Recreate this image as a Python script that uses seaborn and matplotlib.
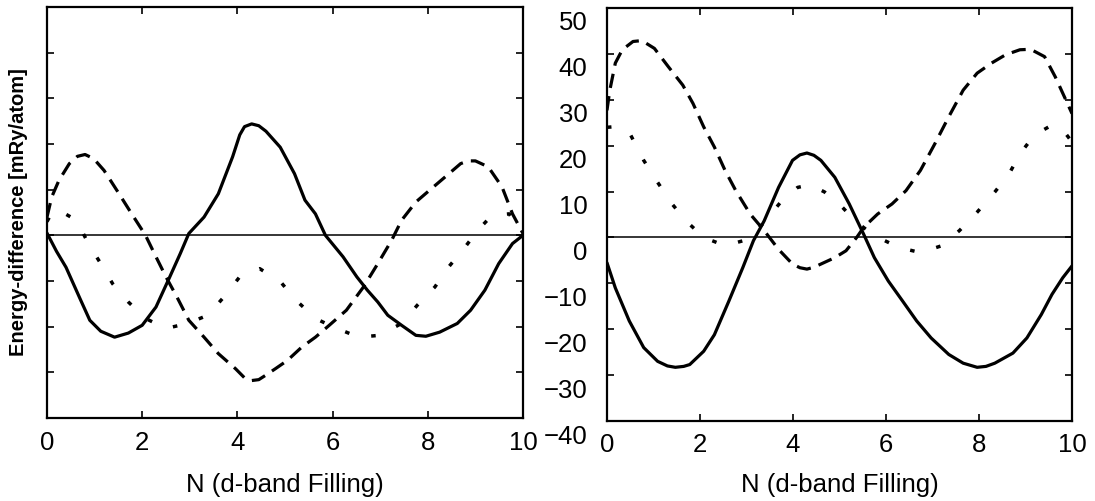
import matplotlib
matplotlib.use("Agg")
import matplotlib.pyplot as plt
import matplotlib.transforms as mtransforms
import pandas as pd
import seaborn as sns

# ---- d-band filling vs. structural energy difference (mRy/atom) ----
# Left panel
left_solid_n = [0, 0.2, 0.4, 0.7, 0.9, 1.13, 1.42, 1.71, 2.0, 2.29, 2.58, 2.8, 2.98, 3.3, 3.6,
                3.9, 4.05, 4.15, 4.3, 4.45, 4.6, 4.9, 5.2, 5.42, 5.64, 5.85, 6.22, 6.51, 6.73,
                6.95, 7.16, 7.45, 7.75, 7.96, 8.25, 8.62, 8.9, 9.2, 9.49, 9.78, 10.0]
left_solid_e = [0.5, -3.5, -7, -14, -18.6, -21, -22.3, -21.4, -19.7, -15.7, -9.1, -4, 0.4, 4, 9.1,
                17.2, 22.0, 23.8, 24.4, 24.0, 22.8, 19.3, 13.5, 7.7, 4.7, 0, -4.7, -9.1, -12,
                -14.6, -17.5, -19.7, -21.9, -22.1, -21.2, -19.3, -16.4, -12, -6.2, -1.8, 0]

left_dashed_n = [0, 0.1, 0.25, 0.47, 0.64, 0.8, 0.98, 1.2, 1.49, 1.78, 2.07, 2.29, 2.5, 2.73,
                 2.98, 3.3, 3.6, 3.96, 4.15, 4.3, 4.45, 4.6, 4.8, 5.05, 5.35, 5.64, 5.93, 6.29,
                 6.65, 6.95, 7.24, 7.45, 7.75, 8.04, 8.4, 8.69, 8.85, 9.0, 9.27, 9.56, 9.78, 10.0]
left_dashed_e = [4, 8.4, 12, 15.7, 17.3, 17.7, 16.8, 14.2, 9.5, 4.7, 0, -4.7, -9.1, -13.5,
                 -18.6, -22.3, -25.9, -29.2, -31.2, -31.8, -31.6, -30.6, -29.2, -27.4, -24.5,
                 -22.3, -19.7, -16.4, -11.3, -6.2, -1.1, 3.3, 7.3, 9.9, 13.1, 15.7, 16.3, 16.3,
                 15, 10.6, 4.7, 0.4]

left_dotted_n = [0, 0.13, 0.3, 0.62, 0.87, 1.13, 1.38, 1.71, 2.07, 2.5, 2.95, 3.38, 3.75, 4.07,
                 4.47, 4.91, 5.2, 5.64, 6.0, 6.55, 6.98, 7.45, 7.78, 8.15, 8.44, 8.76, 9.05, 9.35,
                 9.71, 10.0]
left_dotted_e = [3, 5.5, 5.2, 3.3, -1.8, -6.2, -10.6, -14.6, -18.2, -20.4, -19.3, -17.5, -13.1,
                 -8.8, -7.3, -10.2, -13.9, -18.2, -20, -22.3, -21.9, -19.3, -15.3, -11.3, -6.9,
                 -2.9, 1.1, 4.4, 4.7, 0]

# Right panel
right_solid_n = [0, 0.18, 0.48, 0.79, 1.09, 1.3, 1.47, 1.65, 1.78, 2.08, 2.31, 2.62, 2.92, 3.15,
                 3.38, 3.69, 3.99, 4.15, 4.3, 4.45, 4.6, 4.9, 5.21, 5.52, 5.75, 6.05, 6.36, 6.66,
                 6.97, 7.35, 7.66, 7.96, 8.15, 8.34, 8.73, 9.03, 9.34, 9.57, 9.8, 10.0]
right_solid_e = [-5.5, -11, -18.2, -24, -27, -28.0, -28.3, -28.1, -27.7, -24.8, -21.2, -13.9,
                 -6.6, -0.7, 3.6, 10.9, 16.8, 18.0, 18.4, 17.9, 16.8, 13.1, 7.3, 0.7, -4.4, -9.5,
                 -13.9, -18.2, -21.9, -25.5, -27.4, -28.3, -28.1, -27.4, -25.2, -21.9, -16.8,
                 -12.4, -8.8, -6.2]

right_dashed_n = [0, 0.06, 0.18, 0.33, 0.56, 0.75, 1.02, 1.32, 1.63, 1.85, 2.08, 2.31, 2.54, 2.77,
                  3.08, 3.38, 3.69, 3.99, 4.15, 4.3, 4.45, 4.6, 4.9, 5.14, 5.37, 5.52, 5.82, 6.13,
                  6.43, 6.74, 7.05, 7.35, 7.66, 7.96, 8.27, 8.57, 8.88, 9.11, 9.41, 9.64, 9.87,
                  10.0]
right_dashed_e = [27.7, 32, 38, 40.9, 42.7, 42.9, 41.2, 37.2, 33.2, 29.2, 24.1, 19.7, 14.6, 10.2,
                  5.1, 1.5, -2.6, -5.8, -6.6, -6.9, -6.5, -5.8, -4.4, -2.9, 0, 2.2, 5.1, 7.3,
                  10.2, 14.6, 20.4, 26.3, 32.1, 35.8, 38, 39.8, 40.9, 41, 39.4, 35, 29.9, 27]

right_dotted_n = [0, 0.25, 0.5, 0.79, 1.09, 1.4, 1.7, 2.08, 2.54, 3.04, 3.38, 3.76, 4.1, 4.37,
                  4.68, 5.06, 5.37, 5.75, 6.28, 6.74, 7.2, 7.58, 7.96, 8.34, 8.65, 8.88, 9.19,
                  9.57, 9.8, 10.0]
right_dotted_e = [24, 24.2, 22.5, 16.8, 12, 7.3, 3.6, 0, -1.8, -0.4, 3.3, 8, 10.9, 11.5, 9.9, 6.6,
                  3.3, 0.4, -2.2, -3.3, -1.8, 1.5, 5.5, 9.9, 13.9, 18.2, 22.3, 24.5, 23.5, 20.8]

x_ticks = [0, 2, 4, 6, 8, 10]
y_ticks = [-40, -30, -20, -10, 0, 10, 20, 30, 40, 50]
x_label = "N (d-band Filling)"
y_label = "Energy-difference [mRy/atom]"

sns.set_style("ticks")
plt.rcParams["font.family"] = ["Liberation Sans", "DejaVu Sans"]
plt.rcParams.update({
    "text.color": "black",
    "axes.labelcolor": "black",
    "axes.edgecolor": "black",
    "xtick.color": "black",
    "ytick.color": "black",
})

STYLES = {
    "solid": dict(linewidth=2.3, linestyle="-"),
    "dashed": dict(linewidth=2.3, linestyle=(0, (4.5, 2.6))),
    "dotted": dict(linewidth=2.5, linestyle=(0, (1.3, 6.5))),
}

fig = plt.figure(figsize=(10.95, 5.01), dpi=100)
ax_l = fig.add_axes([0.0429, 1 - 418 / 501, 0.4347, 411 / 501])
ax_r = fig.add_axes([0.5543, 1 - 421 / 501, 0.4247, 413 / 501])


def draw_panel(ax, curves, show_ylabels, labelpad):
    for name, n, e in curves:
        df = pd.DataFrame({"N": n, "E": e})
        sns.lineplot(data=df, x="N", y="E", ax=ax, color="black",
                     estimator=None, sort=False, **STYLES[name])
    ax.axhline(0, color="black", linewidth=1.1)
    ax.set_xlim(0, 10)
    ax.set_ylim(-40, 50)
    ax.set_xticks(x_ticks)
    ax.set_yticks(y_ticks)
    ax.set_xlabel(x_label, fontsize=18.5, labelpad=labelpad)
    ax.set_ylabel("")
    ax.tick_params(direction="in", length=5, width=1.2, top=True, right=True,
                   labelsize=18.5, pad=9, labelleft=show_ylabels, colors="black")
    ax.tick_params(axis="y", pad=14)
    for sp in ax.spines.values():
        sp.set_linewidth(1.6)
        sp.set_color("black")


draw_panel(ax_l, [("solid", left_solid_n, left_solid_e),
                  ("dashed", left_dashed_n, left_dashed_e),
                  ("dotted", left_dotted_n, left_dotted_e)], False, 13)
draw_panel(ax_r, [("solid", right_solid_n, right_solid_e),
                  ("dashed", right_dashed_n, right_dashed_e),
                  ("dotted", right_dotted_n, right_dotted_e)], True, 11)

# value labels sit a little below their tick marks
shift = mtransforms.ScaledTranslation(0, -0.13, fig.dpi_scale_trans)
for lab in ax_r.get_yticklabels():
    lab.set_transform(lab.get_transform() + shift)

fig.text(19 / 1095, 1 - 212 / 501, y_label, rotation=90, ha="center", va="center",
         fontsize=14.5, fontweight="bold", color="black")

fig.savefig("out.png", dpi=100)
